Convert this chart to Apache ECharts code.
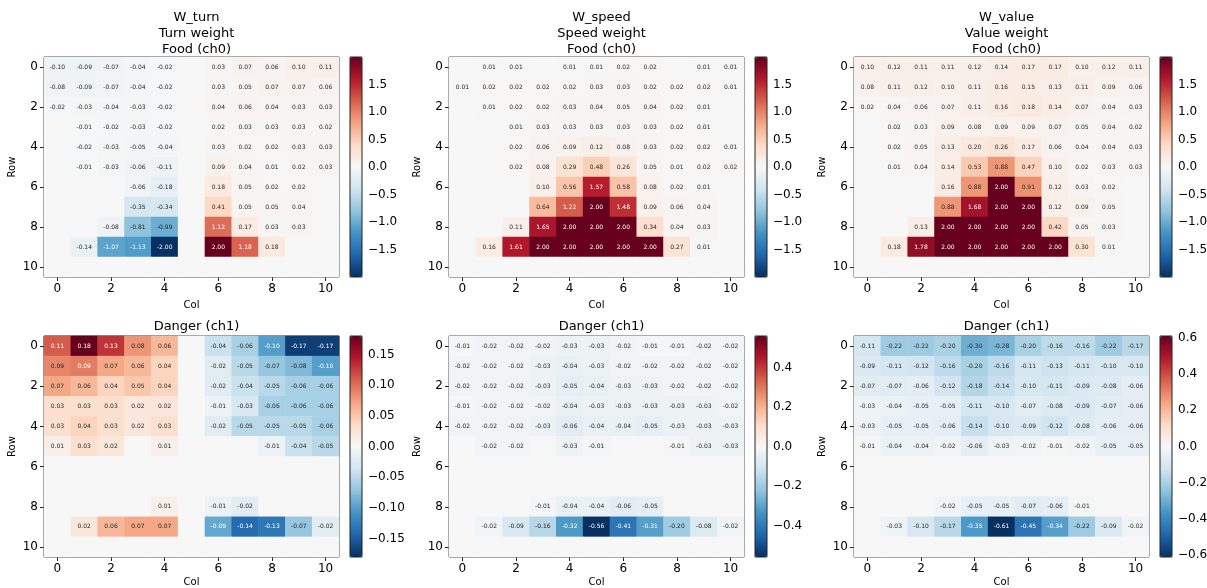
<!DOCTYPE html>
<html>
<head>
<meta charset="utf-8">
<script src="https://cdn.jsdelivr.net/npm/echarts@6/dist/echarts.min.js"></script>
<style>
html, body { margin: 0; padding: 0; background: #fff; }
#chart { width: 1207px; height: 588px; }
</style>
</head>
<body>
<div id="chart"></div>
<script>
// axis categories
const colLabels = ['0','1','2','3','4','5','6','7','8','9','10'];
const rowLabels = ['0','1','2','3','4','5','6','7','8','9','10'];

const titles = [
  'W_turn\nTurn weight\nFood (ch0)',
  'W_speed\nSpeed weight\nFood (ch0)',
  'W_value\nValue weight\nFood (ch0)',
  'Danger (ch1)',
  'Danger (ch1)',
  'Danger (ch1)'
];

// rows top -> bottom, cols left -> right
const wTurn = [
  [-0.10,-0.09,-0.07,-0.04,-0.02,0,0.03,0.07,0.06,0.10,0.11],
  [-0.08,-0.09,-0.07,-0.04,-0.02,0,0.03,0.05,0.07,0.07,0.06],
  [-0.02,-0.03,-0.04,-0.03,-0.02,0,0.04,0.06,0.04,0.03,0.03],
  [0,-0.01,-0.02,-0.03,-0.02,0,0.02,0.03,0.03,0.03,0.02],
  [0,-0.02,-0.03,-0.05,-0.04,0,0.03,0.02,0.02,0.03,0.03],
  [0,-0.01,-0.03,-0.06,-0.11,0,0.09,0.04,0.01,0.02,0.03],
  [0,0,0,-0.06,-0.18,0,0.18,0.05,0.02,0.02,0],
  [0,0,0,-0.35,-0.34,0,0.41,0.05,0.05,0.04,0],
  [0,0,-0.08,-0.81,-0.99,0,1.12,0.17,0.03,0.03,0],
  [0,-0.14,-1.07,-1.13,-2.00,0,2.00,1.18,0.18,0,0],
  [0,0,0,0,0,0,0,0,0,0,0]
];

const wSpeed = [
  [0,0.01,0.01,0,0.01,0.01,0.02,0.02,0,0.01,0.01],
  [0.01,0.02,0.02,0.02,0.02,0.03,0.03,0.02,0.02,0.02,0.01],
  [0,0.01,0.02,0.02,0.03,0.04,0.05,0.04,0.02,0.01,0],
  [0,0,0.01,0.03,0.03,0.03,0.03,0.03,0.02,0.01,0],
  [0,0,0.02,0.06,0.09,0.12,0.08,0.03,0.02,0.02,0.01],
  [0,0,0.02,0.08,0.29,0.48,0.26,0.05,0.01,0.02,0.02],
  [0,0,0,0.10,0.56,1.57,0.58,0.08,0.02,0.01,0],
  [0,0,0,0.64,1.22,2.00,1.48,0.09,0.06,0.04,0],
  [0,0,0.11,1.65,2.00,2.00,2.00,0.34,0.04,0.03,0],
  [0,0.16,1.61,2.00,2.00,2.00,2.00,2.00,0.27,0.01,0],
  [0,0,0,0,0,0,0,0,0,0,0]
];

const wValue = [
  [0.10,0.12,0.11,0.11,0.12,0.14,0.17,0.17,0.10,0.12,0.11],
  [0.08,0.11,0.12,0.10,0.11,0.16,0.15,0.13,0.11,0.09,0.06],
  [0.02,0.04,0.06,0.07,0.11,0.16,0.18,0.14,0.07,0.04,0.03],
  [0,0.02,0.03,0.09,0.08,0.09,0.09,0.07,0.05,0.04,0.02],
  [0,0.02,0.05,0.13,0.20,0.26,0.17,0.06,0.04,0.04,0.03],
  [0,0.01,0.04,0.14,0.53,0.88,0.47,0.10,0.02,0.03,0.03],
  [0,0,0,0.16,0.88,2.00,0.91,0.12,0.03,0.02,0],
  [0,0,0,0.88,1.68,2.00,2.00,0.12,0.09,0.05,0],
  [0,0,0.13,2.00,2.00,2.00,2.00,0.42,0.05,0.03,0],
  [0,0.18,1.78,2.00,2.00,2.00,2.00,2.00,0.30,0.01,0],
  [0,0,0,0,0,0,0,0,0,0,0]
];

const dangerTurn = [
  [0.11,0.18,0.13,0.08,0.06,0,-0.04,-0.06,-0.10,-0.17,-0.17],
  [0.088,0.093,0.07,0.06,0.04,0,-0.02,-0.05,-0.07,-0.08,-0.10],
  [0.07,0.06,0.04,0.05,0.04,0,-0.02,-0.04,-0.05,-0.06,-0.06],
  [0.03,0.03,0.03,0.02,0.02,0,-0.01,-0.03,-0.06,-0.06,-0.06],
  [0.03,0.04,0.03,0.02,0.03,0,-0.02,-0.05,-0.05,-0.05,-0.06],
  [0.01,0.03,0.02,0,0.01,0,0,0,-0.01,-0.04,-0.05],
  [0,0,0,0,0,0,0,0,0,0,0],
  [0,0,0,0,0,0,0,0,0,0,0],
  [0,0,0,0,0.01,0,-0.01,-0.02,0,0,0],
  [0,0.02,0.06,0.07,0.07,0,-0.093,-0.14,-0.13,-0.07,-0.02],
  [0,0,0,0,0,0,0,0,0,0,0]
];

const dangerSpeed = [
  [-0.01,-0.02,-0.02,-0.02,-0.03,-0.03,-0.02,-0.01,-0.01,-0.02,-0.02],
  [-0.02,-0.02,-0.02,-0.03,-0.04,-0.03,-0.02,-0.02,-0.02,-0.02,-0.02],
  [-0.02,-0.02,-0.02,-0.03,-0.05,-0.04,-0.03,-0.03,-0.02,-0.02,-0.02],
  [-0.01,-0.02,-0.02,-0.02,-0.04,-0.03,-0.03,-0.03,-0.03,-0.03,-0.02],
  [-0.02,-0.02,-0.02,-0.03,-0.06,-0.04,-0.04,-0.05,-0.03,-0.03,-0.03],
  [0,-0.02,-0.02,0,-0.03,-0.01,0,0,-0.01,-0.03,-0.03],
  [0,0,0,0,0,0,0,0,0,0,0],
  [0,0,0,0,0,0,0,0,0,0,0],
  [0,0,0,-0.01,-0.04,-0.04,-0.06,-0.05,0,0,0],
  [0,-0.02,-0.09,-0.16,-0.32,-0.56,-0.41,-0.31,-0.20,-0.08,-0.02],
  [0,0,0,0,0,0,0,0,0,0,0]
];

const dangerValue = [
  [-0.11,-0.22,-0.22,-0.20,-0.30,-0.28,-0.20,-0.16,-0.16,-0.22,-0.17],
  [-0.09,-0.11,-0.12,-0.16,-0.20,-0.16,-0.11,-0.13,-0.11,-0.10,-0.10],
  [-0.07,-0.07,-0.06,-0.12,-0.18,-0.14,-0.10,-0.11,-0.09,-0.08,-0.06],
  [-0.03,-0.04,-0.05,-0.05,-0.11,-0.10,-0.07,-0.08,-0.09,-0.07,-0.06],
  [-0.03,-0.05,-0.05,-0.06,-0.14,-0.10,-0.09,-0.12,-0.08,-0.06,-0.06],
  [-0.01,-0.04,-0.04,-0.02,-0.06,-0.03,-0.02,-0.01,-0.02,-0.05,-0.05],
  [0,0,0,0,0,0,0,0,0,0,0],
  [0,0,0,0,0,0,0,0,0,0,0],
  [0,0,0,-0.02,-0.05,-0.05,-0.07,-0.06,-0.01,0,0],
  [0,-0.03,-0.10,-0.17,-0.35,-0.61,-0.45,-0.34,-0.22,-0.09,-0.02],
  [0,0,0,0,0,0,0,0,0,0,0]
];

// colorbar tick labels
const cbTicks = [
  [-1.5,-1.0,-0.5,0,0.5,1.0,1.5],
  [-1.5,-1.0,-0.5,0,0.5,1.0,1.5],
  [-1.5,-1.0,-0.5,0,0.5,1.0,1.5],
  [-0.15,-0.10,-0.05,0,0.05,0.10,0.15],
  [-0.4,-0.2,0,0.2,0.4],
  [-0.6,-0.4,-0.2,0,0.2,0.4,0.6]
];
const cbDecimals = [1, 1, 1, 2, 1, 1];

const allData = [wTurn, wSpeed, wValue, dangerTurn, dangerSpeed, dangerValue];

// RdBu_r
const rdbu = ['#053061','#2166ac','#4393c3','#92c5de','#d1e5f0','#f7f7f7',
              '#fddbc7','#f4a582','#d6604d','#b2182b','#67001f'];

const panelLeft = [44, 449, 854];
const panelTop = [57, 336];
const panelW = 295;
const panelH = [220, 221];
const colNameGap = [23, 20];
const cbLeft = [350, 755, 1160];
const cbW = 12;

const fmtMinus = (s) => s.replace('-', '\u2212');

let grids = [], xAxes = [], yAxes = [], series = [], visualMaps = [], titleList = [];

allData.forEach(function (mat, i) {
  const col = i % 3, row = Math.floor(i / 3);
  let vmax = 0;
  mat.forEach(r => r.forEach(v => { if (Math.abs(v) > vmax) vmax = Math.abs(v); }));

  const left = panelLeft[col], top = panelTop[row], h = panelH[row];

  titleList.push({
    text: titles[i],
    left: left + panelW / 2,
    top: row === 0 ? 5 : 314,
    textAlign: 'center',
    textStyle: { fontSize: 13, fontWeight: 'normal', color: '#000', lineHeight: 16, fontFamily: 'DejaVu Sans' }
  });

  grids.push({ left: left, top: top, width: panelW, height: h, show: true,
    borderColor: '#222', borderWidth: 1, backgroundColor: 'transparent',
    containLabel: false, outerBoundsMode: 'none' });

  xAxes.push({
    gridIndex: i, type: 'category', data: colLabels, position: 'bottom',
    name: 'Col', nameLocation: 'middle', nameGap: colNameGap[row],
    nameTextStyle: { fontSize: 10, color: '#000' },
    axisLine: { show: false },
    axisTick: { show: true, interval: 1, alignWithLabel: true, length: 4, lineStyle: { color: '#222' } },
    axisLabel: { interval: 1, fontSize: 12, color: '#000', margin: 6 },
    splitLine: { show: false }
  });
  yAxes.push({
    gridIndex: i, type: 'category', data: rowLabels, inverse: true,
    name: 'Row', nameLocation: 'middle', nameGap: 27, nameRotate: 90,
    nameTextStyle: { fontSize: 10, color: '#000' },
    axisLine: { show: false },
    axisTick: { show: true, interval: 1, alignWithLabel: true, length: 4, lineStyle: { color: '#222' } },
    axisLabel: { interval: 1, fontSize: 12, color: '#000', margin: 6 },
    splitLine: { show: false }
  });

  const items = [];
  mat.forEach(function (r, ri) {
    r.forEach(function (v, ci) {
      items.push({
        value: [ci, ri, v],
        label: { color: Math.abs(v) > 0.5 * vmax ? '#ffffff' : '#262626' }
      });
    });
  });

  series.push({
    type: 'heatmap', xAxisIndex: i, yAxisIndex: i, data: items,
    label: {
      show: true, fontSize: 6, fontFamily: 'DejaVu Sans',
      formatter: function (p) {
        const v = p.value[2];
        return Math.abs(v) < 0.005 ? '' : v.toFixed(2);
      }
    },
    itemStyle: { borderWidth: 0 },
    emphasis: { disabled: true }
  });

  visualMaps.push({
    type: 'continuous', seriesIndex: i, dimension: 2,
    min: -vmax, max: vmax, inRange: { color: rdbu },
    calculable: false, hoverLink: false, orient: 'vertical',
    left: cbLeft[col], top: top, itemWidth: cbW, itemHeight: h,
    padding: 0, text: null, textGap: 0
  });
});

// colorbar frames and tick axes
allData.forEach(function (mat, i) {
  const col = i % 3, row = Math.floor(i / 3);
  let vmax = 0;
  mat.forEach(r => r.forEach(v => { if (Math.abs(v) > vmax) vmax = Math.abs(v); }));
  const gi = grids.length;
  grids.push({ left: cbLeft[col], top: panelTop[row], width: cbW, height: panelH[row],
    show: true, borderColor: '#222', borderWidth: 1, backgroundColor: 'transparent', z: 10,
    containLabel: false, outerBoundsMode: 'none' });
  xAxes.push({ gridIndex: gi, type: 'value', show: false, min: 0, max: 1 });
  yAxes.push({
    gridIndex: gi, type: 'value', position: 'right', min: -vmax, max: vmax,
    axisLine: { show: false }, splitLine: { show: false },
    axisTick: { show: true, customValues: cbTicks[i], length: 4, lineStyle: { color: '#222' } },
    axisLabel: {
      customValues: cbTicks[i], fontSize: 12, color: '#000', margin: 6,
      formatter: function (v) { return fmtMinus(Number(v).toFixed(cbDecimals[i])); }
    }
  });
});

const myChart = echarts.init(document.getElementById('chart'));
myChart.setOption({
  backgroundColor: '#ffffff',
  animation: false,
  textStyle: { fontFamily: 'DejaVu Sans' },
  title: titleList,
  grid: grids,
  xAxis: xAxes,
  yAxis: yAxes,
  visualMap: visualMaps,
  series: series
});
</script>
</body>
</html>
